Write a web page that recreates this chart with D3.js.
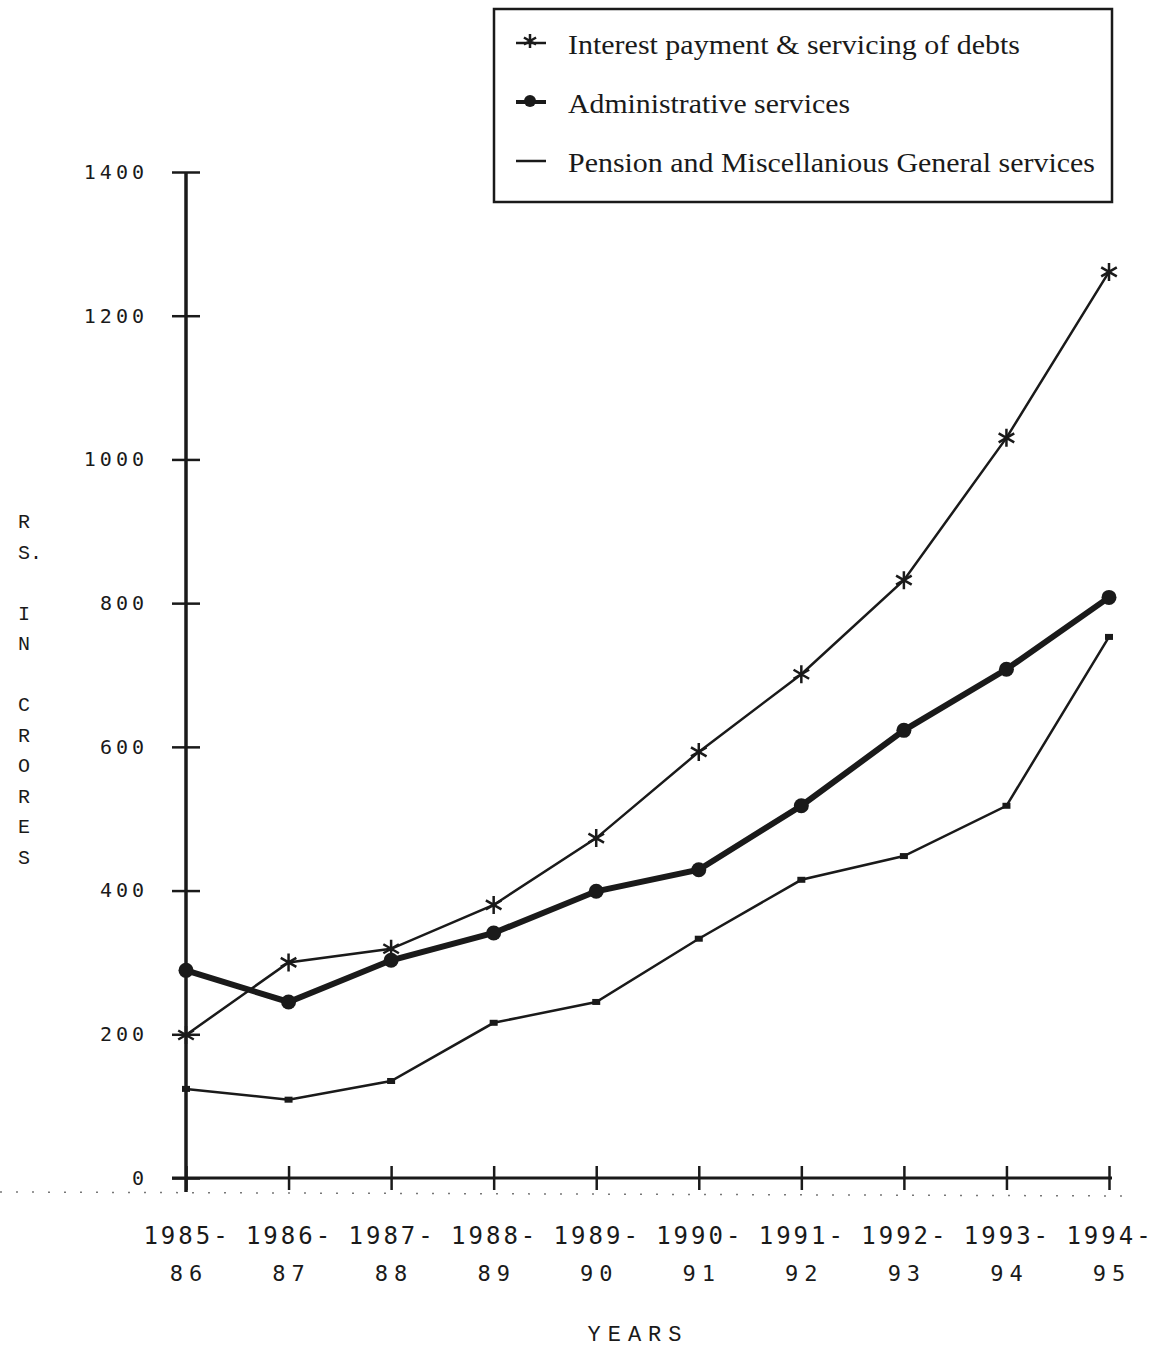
<!DOCTYPE html>
<html><head><meta charset="utf-8">
<script src="https://cdn.jsdelivr.net/npm/d3@7"></script>
<style>body{margin:0;background:#fff}</style>
</head><body>
<script>
const categories = [["1985-","86"],["1986-","87"],["1987-","88"],["1988-","89"],["1989-","90"],["1990-","91"],["1991-","92"],["1992-","93"],["1993-","94"],["1994-","95"]];
const interest = [199, 300, 319, 380, 473, 593, 701, 832, 1030, 1261];
const admin = [289, 245, 303, 341, 399, 429, 518, 623, 708, 808];
const pension = [124, 109, 135, 216, 245, 333, 415, 448, 518, 753];
const yTicks = [0, 200, 400, 600, 800, 1000, 1200, 1400];
const legendLabels = ["Interest payment & servicing of debts","Administrative services","Pension and Miscellanious General services"];
const yTitle = ["R","S.","","I","N","","C","R","O","R","E","S"];

const W=1153,H=1349;
const svg=d3.select("body").append("svg").attr("width",W).attr("height",H);
const x=d3.scalePoint().domain(d3.range(categories.length)).range([186,1109]);
const y=d3.scaleLinear().domain([0,1400]).range([1178,172]);
const ink="#1a1a1a";
const mono="'DejaVu Sans Mono','Liberation Mono',monospace";
const courier="'Liberation Mono','Courier New',monospace";

// y axis
const ya=svg.append("g").attr("transform","translate(186,0)")
 .call(d3.axisLeft(y).tickValues(yTicks).tickSize(14).tickFormat(d=>d));
ya.select(".domain").remove();
ya.selectAll(".tick line").attr("x2",-14).attr("x1",14).attr("stroke",ink).attr("stroke-width",2.5);
ya.selectAll(".tick text").attr("font-family",mono).attr("font-size",20).attr("letter-spacing",4).attr("fill",ink).attr("x",-38);
svg.append("line").attr("x1",186).attr("x2",186).attr("y1",172).attr("y2",1192).attr("stroke",ink).attr("stroke-width",3.5);

// x axis
svg.append("line").attr("x1",172).attr("x2",1112).attr("y1",y(0)).attr("y2",y(0)).attr("stroke",ink).attr("stroke-width",3);
const xa=svg.append("g").attr("transform",`translate(0,${y(0)})`).call(d3.axisBottom(x).tickSize(12).tickFormat(""));
xa.select(".domain").remove();
xa.selectAll(".tick line").attr("y1",-12).attr("y2",12).attr("stroke",ink).attr("stroke-width",2.5);
// dotted line
svg.append("line").attr("x1",0).attr("x2",1130).attr("y1",1192).attr("y2",1196).attr("stroke","#777").attr("stroke-width",1.5).attr("stroke-dasharray","2,14");

const xl=svg.append("g");
categories.forEach((c,i)=>{
  xl.append("text").attr("x",x(i)+1).attr("y",1244).attr("text-anchor","middle").attr("font-family",mono).attr("font-size",24).attr("letter-spacing",3).attr("fill",ink).text(c[0]);
  xl.append("text").attr("x",x(i)+3).attr("y",1281).attr("text-anchor","middle").attr("font-family",mono).attr("font-size",22).attr("letter-spacing",6).attr("fill",ink).text(c[1]);
});
svg.append("text").attr("x",638).attr("y",1341).attr("text-anchor","middle").attr("font-family",courier).attr("font-size",22).attr("letter-spacing",7).attr("fill",ink).text("YEARS");

yTitle.forEach((t,i)=>{
  svg.append("text").attr("x",18).attr("y",528+i*30.5).attr("font-family",courier).attr("font-size",20).attr("fill",ink).text(t);
});

const line=d3.line().x((d,i)=>x(i)).y(d=>y(d));
svg.append("path").datum(pension).attr("d",line).attr("fill","none").attr("stroke",ink).attr("stroke-width",2.5);
svg.append("path").datum(interest).attr("d",line).attr("fill","none").attr("stroke",ink).attr("stroke-width",2.5);
svg.append("path").datum(admin).attr("d",line).attr("fill","none").attr("stroke",ink).attr("stroke-width",6);

function asterisk(g,cx,cy,s){
  const p=d3.path();
  for(let k=0;k<3;k++){const a=Math.PI/2+k*Math.PI/3;p.moveTo(cx-s*Math.cos(a),cy-s*Math.sin(a));p.lineTo(cx+s*Math.cos(a),cy+s*Math.sin(a));}
  g.append("path").attr("d",p.toString()).attr("stroke",ink).attr("stroke-width",2.5).attr("fill","none");
}
interest.forEach((v,i)=>asterisk(svg,x(i),y(v),9));
svg.selectAll(".adm").data(admin).join("circle").attr("cx",(d,i)=>x(i)).attr("cy",d=>y(d)).attr("r",7.5).attr("fill",ink);
svg.selectAll(".pen").data(pension).join("rect").attr("x",(d,i)=>x(i)-4).attr("y",d=>y(d)-3).attr("width",8).attr("height",6).attr("fill",ink);

// legend
svg.append("rect").attr("x",494).attr("y",9).attr("width",618).attr("height",193).attr("fill","none").attr("stroke",ink).attr("stroke-width",2.5);
const ly=[46,105,164];
const lLen=[452,282,527];
legendLabels.forEach((t,i)=>{
  svg.append("line").attr("x1",516).attr("x2",546).attr("y1",ly[i]-3).attr("y2",ly[i]-3).attr("stroke",ink).attr("stroke-width",i==1?4:2.5);
  if(i==0) asterisk(svg,530,ly[i]-5,7);
  if(i==1) svg.append("circle").attr("cx",530).attr("cy",ly[i]-4).attr("r",6).attr("fill",ink);
  svg.append("text").attr("x",568).attr("y",ly[i]+8).attr("font-family","'Liberation Serif',serif").attr("font-size",27)
    .attr("textLength",lLen[i]).attr("lengthAdjust","spacingAndGlyphs").attr("fill",ink).text(t);
});
</script>
</body></html>
